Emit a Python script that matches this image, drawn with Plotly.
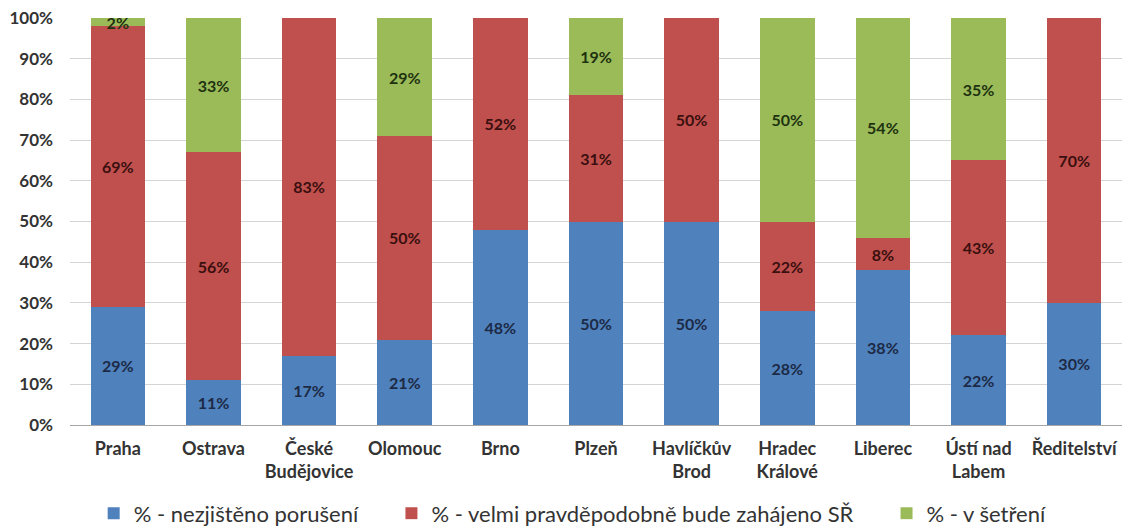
import plotly.graph_objects as go

categories = ['Praha', 'Ostrava', 'České<br>Budějovice', 'Olomouc', 'Brno', 'Plzeň',
              'Havlíčkův<br>Brod', 'Hradec<br>Králové', 'Liberec', 'Ústí nad<br>Labem', 'Ředitelství']
nezjisteno = [29, 11, 17, 21, 48, 50, 50, 28, 38, 22, 30]
zahajeno = [69, 56, 83, 50, 52, 31, 50, 22, 8, 43, 70]
v_setreni = [2, 33, 0, 29, 0, 19, 0, 50, 54, 35, 0]

NB = '\u00a0'
series = [
    ('% - nezjištěno porušení' + NB * 5, nezjisteno, '#4F81BD', '#1c2a45'),
    ('% - velmi pravděpodobně bude zahájeno SŘ' + NB * 5, zahajeno, '#C0504D', '#3a0f0f'),
    ('% - v šetření', v_setreni, '#9BBB59', '#1e3210'),
]

fig = go.Figure()
for name, vals, color, tcolor in series:
    fig.add_trace(go.Bar(
        x=categories, y=vals, name=name,
        marker=dict(color=color, line=dict(width=0)),
        text=[f'{v}%' if v else '' for v in vals],
        textposition='inside', insidetextanchor='middle',
        textfont=dict(family='Lato', size=16, color=tcolor, weight='bold'),
        textangle=0, constraintext='none',
        hoverinfo='skip',
    ))

fig.update_layout(
    barmode='stack', bargap=0.43,
    width=1123, height=526,
    margin=dict(l=70, r=1, t=18, b=101),
    plot_bgcolor='white', paper_bgcolor='white',
    font=dict(family='Lato', color='#404040'),
    uniformtext=dict(minsize=8, mode='show'),
    xaxis=dict(
        showgrid=False, ticks='', showline=False, automargin=False,
        tickfont=dict(size=18, color='#333333', weight='bold'),
        ticklabelstandoff=11,
    ),
    yaxis=dict(
        range=[0, 100], dtick=10, ticksuffix='%', automargin=False,
        showgrid=True, gridcolor='#d4d4d4', gridwidth=1,
        zeroline=True, zerolinecolor='#a6a6a6', zerolinewidth=1,
        tickfont=dict(size=17, color='#333333', weight='bold'),
        ticklabelstandoff=16,
    ),
    legend=dict(
        orientation='h', x=0.0225, xanchor='left',
        yref='container', y=0.024, yanchor='middle',
        font=dict(size=22, color='#333333'),
        traceorder='normal', bgcolor='rgba(0,0,0,0)',
    ),
)

# page body has a default 8px margin; drop it so the figure sits at the corner
fig.write_html('out.html', config={'displayModeBar': False},
               post_script="document.body.style.margin='0';")
